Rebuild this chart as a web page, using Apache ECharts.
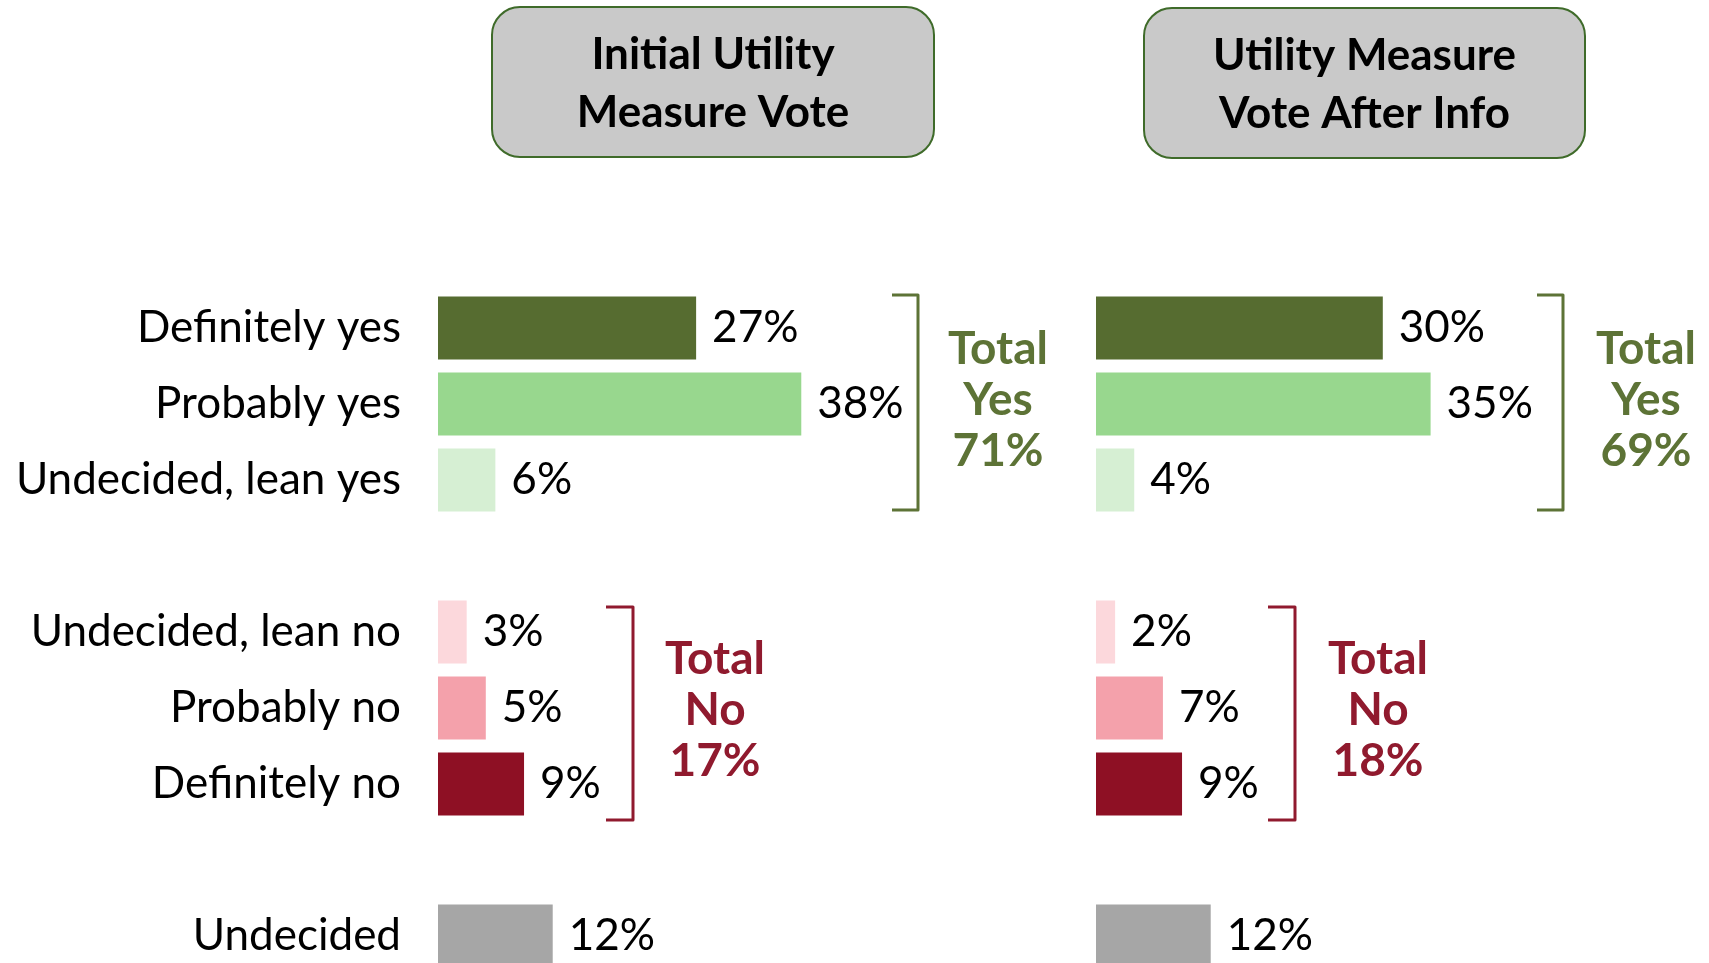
<!DOCTYPE html>
<html>
<head>
<meta charset="utf-8">
<script src="https://cdn.jsdelivr.net/npm/echarts@6/dist/echarts.min.js"></script>
<style>
  html, body { margin: 0; padding: 0; background: #fff; }
  #main { width: 1709px; height: 963px; }
</style>
</head>
<body>
<div id="main"></div>
<script>
// categories (blank rows are spacers between the groups)
var categories = ['Definitely yes', 'Probably yes', 'Undecided, lean yes', '',
                  'Undecided, lean no', 'Probably no', 'Definitely no', ' ',
                  'Undecided'];
var initialVote = [27, 38, 6, null, 3, 5, 9, null, 12];
var afterInfoVote = [30, 35, 4, null, 2, 7, 9, null, 12];
var barColors = ['#566c30', '#98d78e', '#d6efd3', '#fff',
                 '#fcd8dc', '#f4a1ab', '#8e1024', '#fff', '#a6a6a6'];
var panelTitles = ['Initial Utility\nMeasure Vote', 'Utility Measure\nVote After Info'];
var totalYes = [71, 69];
var totalNo = [17, 18];

var FONT = 'Lato, "Open Sans", sans-serif';
var GREEN = '#5d7336';
var RED = '#901a2e';

function bracket(x, top, bottom, arm, color) {
    return {
        type: 'polyline',
        shape: { points: [[x - arm, top], [x, top], [x, bottom], [x - arm, bottom]] },
        style: { fill: null, stroke: color, lineWidth: 3, lineJoin: 'round' }
    };
}

function totalText(x, y, word, value, color) {
    return {
        type: 'text',
        style: {
            text: 'Total\n' + word + '\n' + value + '%',
            x: x, y: y,
            align: 'center', verticalAlign: 'middle',
            fill: color, fontFamily: FONT, fontWeight: 'bold',
            fontSize: 46, lineHeight: 51
        }
    };
}

function header(x, y, w, h, text) {
    return [{
        type: 'rect',
        shape: { x: x, y: y, width: w, height: h, r: 28 },
        style: { fill: '#c9c9c9', stroke: '#3f6b2a', lineWidth: 2 }
    }, {
        type: 'text',
        style: {
            text: text, x: x + w / 2, y: y + h / 2 + 2,
            align: 'center', verticalAlign: 'middle',
            fill: '#000', fontFamily: FONT, fontWeight: 'bold',
            fontSize: 44, lineHeight: 58
        }
    }];
}

function barSeries(data, axisIdx) {
    return {
        type: 'bar',
        xAxisIndex: axisIdx,
        yAxisIndex: axisIdx,
        data: data,
        barWidth: 63,
        silent: true,
        itemStyle: {
            color: function (p) { return barColors[p.dataIndex]; }
        },
        label: {
            show: true,
            position: 'right',
            distance: 16,
            formatter: '{c}%',
            color: '#000',
            fontFamily: FONT,
            fontSize: 44,
            padding: [10, 0, 0, 0]
        }
    };
}

var valueAxis = function (idx) {
    return {
        type: 'value', gridIndex: idx, min: 0, max: 40,
        show: false
    };
};
var catAxis = function (idx, showLabels) {
    return {
        type: 'category', gridIndex: idx, data: categories, inverse: true,
        axisLine: { show: false }, axisTick: { show: false },
        axisLabel: {
            show: showLabels, margin: 37, color: '#000',
            fontFamily: FONT, fontSize: 44,
            padding: [10, 0, 0, 0]
        }
    };
};

var option = {
    animation: false,
    grid: [
        { left: 438, top: 290, width: 382.4, height: 684, containLabel: false, outerBoundsMode: 'none' },
        { left: 1096, top: 290, width: 382.4, height: 684, containLabel: false, outerBoundsMode: 'none' }
    ],
    xAxis: [valueAxis(0), valueAxis(1)],
    yAxis: [catAxis(0, true), catAxis(1, false)],
    series: [barSeries(initialVote, 0), barSeries(afterInfoVote, 1)],
    graphic: [].concat(
        header(492, 7, 442, 150, panelTitles[0]),
        header(1144, 8, 441, 150, panelTitles[1]),
        [
            bracket(918, 295, 510, 26, GREEN),
            bracket(1563, 295, 510, 26, GREEN),
            bracket(633, 607, 820, 27, RED),
            bracket(1295, 607, 820, 27, RED),
            totalText(998, 400, 'Yes', totalYes[0], GREEN),
            totalText(1646, 400, 'Yes', totalYes[1], GREEN),
            totalText(715, 710, 'No', totalNo[0], RED),
            totalText(1378, 710, 'No', totalNo[1], RED)
        ]
    )
};

var chart = echarts.init(document.getElementById('main'));
chart.setOption(option);
</script>
</body>
</html>
